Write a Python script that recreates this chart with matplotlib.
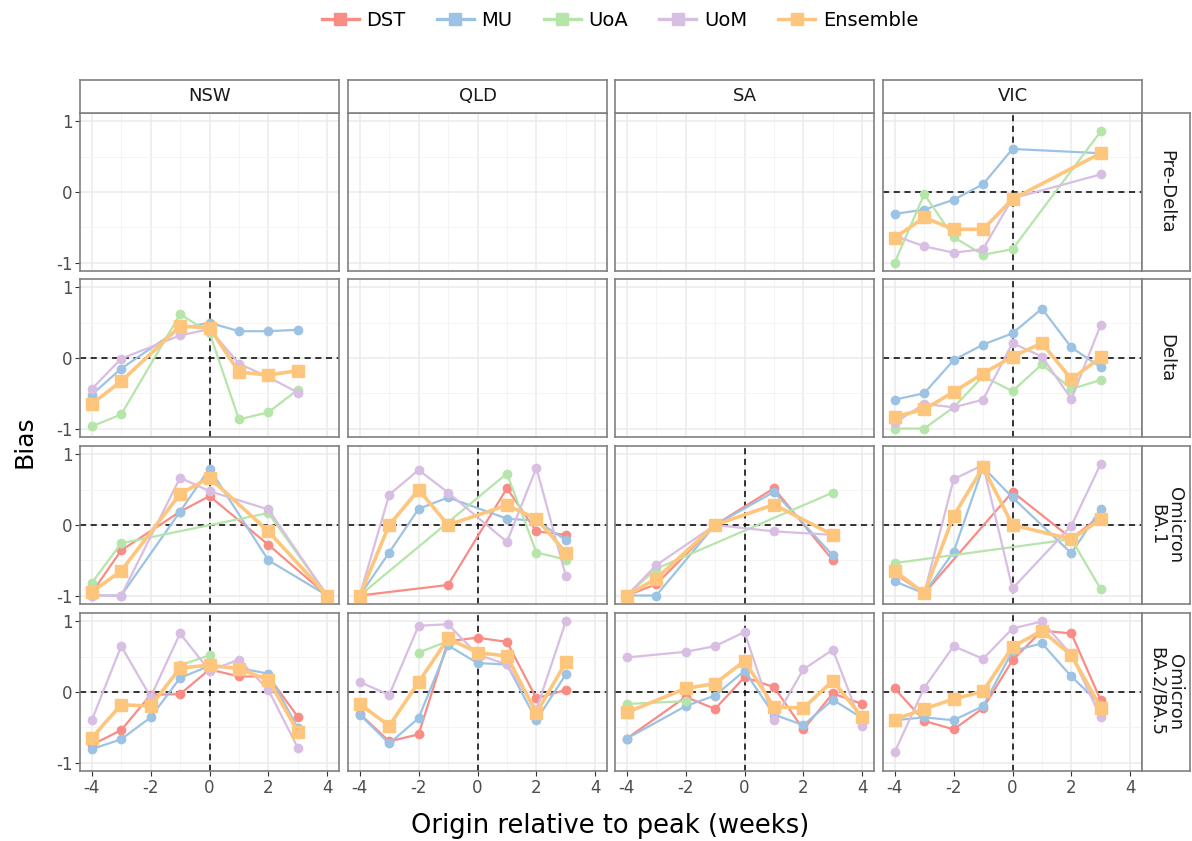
import matplotlib
matplotlib.use('Agg')
import matplotlib.pyplot as plt
from matplotlib.lines import Line2D
from matplotlib.ticker import MultipleLocator
import numpy as np

nan = np.nan

# weeks relative to the peak
weeks = [-4, -3, -2, -1, 0, 1, 2, 3, 4]

states = ['NSW', 'QLD', 'SA', 'VIC']
variants = ['Pre-Delta', 'Delta', 'Omicron\nBA.1', 'Omicron\nBA.2/BA.5']
models = ['DST', 'MU', 'UoA', 'UoM', 'Ensemble']
colores = {'DST': '#f98d85', 'MU': '#9dc3e4', 'UoA': '#b6e5aa',
           'UoM': '#d8bee2', 'Ensemble': '#fdc67c'}

# bias by panel (nan = no forecast for that week)
nsw_delta = {
    'MU':       [-0.52, -0.15, nan, 0.42, 0.50, 0.38, 0.38, 0.40, nan],
    'UoA':      [-0.97, -0.80, nan, 0.62, 0.36, -0.87, -0.77, -0.45, nan],
    'UoM':      [-0.44, -0.01, nan, 0.32, 0.41, -0.08, -0.27, -0.49, nan],
    'Ensemble': [-0.65, -0.33, nan, 0.45, 0.43, -0.20, -0.24, -0.18, nan],
}
nsw_ba1 = {
    'DST':      [-0.96, -0.36, nan, 0.19, 0.41, nan, -0.28, nan, -1.0],
    'MU':       [-1.0, -1.0, nan, 0.19, 0.80, nan, -0.50, nan, -1.0],
    'UoA':      [-0.82, -0.26, nan, nan, nan, nan, 0.17, nan, -1.0],
    'UoM':      [-1.0, -1.0, nan, 0.67, 0.48, nan, 0.22, nan, -1.0],
    'Ensemble': [-0.95, -0.65, nan, 0.44, 0.67, nan, -0.09, nan, -1.0],
}
nsw_ba2 = {
    'DST':      [-0.75, -0.54, -0.04, -0.03, 0.32, 0.22, 0.22, -0.35, nan],
    'MU':       [-0.81, -0.67, -0.36, 0.20, 0.37, 0.34, 0.26, -0.51, nan],
    'UoA':      [nan, nan, nan, 0.38, 0.52, nan, nan, nan, nan],
    'UoM':      [-0.40, 0.65, -0.07, 0.83, 0.30, 0.46, 0.03, -0.79, nan],
    'Ensemble': [-0.65, -0.18, -0.20, 0.34, 0.38, 0.33, 0.17, -0.56, nan],
}
qld_ba1 = {
    'DST':      [-1.0, nan, nan, -0.85, nan, 0.52, -0.09, -0.14, nan],
    'MU':       [-1.0, -0.39, 0.23, 0.39, nan, 0.09, 0.06, -0.21, nan],
    'UoA':      [-1.0, nan, nan, nan, nan, 0.73, -0.39, -0.49, nan],
    'UoM':      [-1.0, 0.43, 0.78, 0.46, nan, -0.24, 0.81, -0.72, nan],
    'Ensemble': [-1.0, 0.0, 0.50, 0.0, nan, 0.28, 0.09, -0.39, nan],
}
qld_ba2 = {
    'DST':      [-0.31, -0.70, -0.60, 0.72, 0.77, 0.71, -0.09, 0.03, nan],
    'MU':       [-0.32, -0.73, -0.37, 0.66, 0.41, 0.39, -0.40, 0.25, nan],
    'UoA':      [nan, nan, 0.56, 0.72, nan, nan, nan, nan, nan],
    'UoM':      [0.14, -0.04, 0.94, 0.96, 0.53, 0.39, -0.25, 1.0, nan],
    'Ensemble': [-0.17, -0.48, 0.14, 0.76, 0.56, 0.51, -0.30, 0.42, nan],
}
sa_ba1 = {
    'DST':      [-1.0, -0.84, nan, 0.0, nan, 0.52, nan, -0.50, nan],
    'MU':       [-1.0, -1.0, nan, 0.0, nan, 0.47, nan, -0.43, nan],
    'UoA':      [-1.0, -0.62, nan, nan, nan, nan, nan, 0.46, nan],
    'UoM':      [-1.0, -0.57, nan, 0.0, nan, -0.09, nan, -0.14, nan],
    'Ensemble': [-1.0, -0.76, nan, 0.0, nan, 0.29, nan, -0.14, nan],
}
sa_ba2 = {
    'DST':      [-0.66, nan, -0.07, -0.24, 0.21, 0.07, -0.53, -0.02, -0.17],
    'MU':       [-0.66, nan, -0.20, -0.05, 0.30, -0.32, -0.47, -0.11, -0.37],
    'UoA':      [-0.17, nan, -0.13, nan, nan, nan, nan, nan, nan],
    'UoM':      [0.49, nan, 0.57, 0.65, 0.85, -0.40, 0.32, 0.60, -0.48],
    'Ensemble': [-0.29, nan, 0.05, 0.12, 0.44, -0.21, -0.23, 0.16, -0.36],
}
vic_pre = {
    'MU':       [-0.31, -0.25, -0.11, 0.11, 0.61, nan, nan, 0.55, nan],
    'UoA':      [-1.0, -0.03, -0.64, -0.89, -0.81, nan, nan, 0.86, nan],
    'UoM':      [-0.62, -0.77, -0.86, -0.81, -0.09, nan, nan, 0.25, nan],
    'Ensemble': [-0.65, -0.36, -0.53, -0.53, -0.10, nan, nan, 0.55, nan],
}
vic_delta = {
    'MU':       [-0.59, -0.50, -0.03, 0.19, 0.35, 0.70, 0.15, -0.13, nan],
    'UoA':      [-1.0, -1.0, -0.70, -0.26, -0.47, -0.09, -0.44, -0.31, nan],
    'UoM':      [-0.92, -0.65, -0.70, -0.59, 0.21, 0.02, -0.58, 0.47, nan],
    'Ensemble': [-0.83, -0.73, -0.48, -0.22, 0.02, 0.21, -0.30, 0.01, nan],
}
vic_ba1 = {
    'DST':      [-0.69, -0.97, nan, nan, 0.47, nan, -0.19, 0.13, nan],
    'MU':       [-0.80, -0.97, -0.38, 0.82, 0.39, nan, -0.40, 0.23, nan],
    'UoA':      [-0.54, nan, nan, nan, nan, nan, -0.20, -0.91, nan],
    'UoM':      [-0.66, -0.97, 0.65, 0.85, -0.90, nan, -0.01, 0.87, nan],
    'Ensemble': [-0.65, -0.97, 0.13, 0.82, 0.0, nan, -0.20, 0.08, nan],
}
vic_ba2 = {
    'DST':      [0.05, -0.41, -0.53, -0.23, 0.45, 0.87, 0.83, -0.12, nan],
    'MU':       [-0.40, -0.36, -0.40, -0.20, 0.58, 0.69, 0.22, -0.18, nan],
    'UoM':      [-0.85, 0.06, 0.65, 0.47, 0.90, 1.0, 0.53, -0.36, nan],
    'Ensemble': [-0.39, -0.24, -0.10, 0.01, 0.64, 0.87, 0.52, -0.22, nan],
}

paneles = {
    ('NSW', 1): nsw_delta, ('NSW', 2): nsw_ba1, ('NSW', 3): nsw_ba2,
    ('QLD', 2): qld_ba1, ('QLD', 3): qld_ba2,
    ('SA', 2): sa_ba1, ('SA', 3): sa_ba2,
    ('VIC', 0): vic_pre, ('VIC', 1): vic_delta, ('VIC', 2): vic_ba1, ('VIC', 3): vic_ba2,
}

W, H = 1192, 841
fig = plt.figure(figsize=(W / 100, H / 100), dpi=100)

def px_axes(x, y, w, h):
    return fig.add_axes([x / W, 1 - (y + h) / H, w / W, h / H])

col_left = [80, 348, 615, 883]
row_top = [113, 279, 446, 613]
pw, ph = 259, 158
borde = '#808080'

for j, st in enumerate(states):
    for i in range(4):
        ax = px_axes(col_left[j], row_top[i], pw, ph)
        ax.set_xlim(-4.4, 4.4)
        ax.set_ylim(-1.12, 1.12)
        ax.xaxis.set_major_locator(MultipleLocator(2))
        ax.xaxis.set_minor_locator(MultipleLocator(1))
        ax.yaxis.set_major_locator(MultipleLocator(1))
        ax.yaxis.set_minor_locator(MultipleLocator(0.5))
        ax.grid(True, which='major', color='#ebebeb', lw=1.1)
        ax.grid(True, which='minor', color='#f3f3f3', lw=0.6)
        ax.set_axisbelow(True)
        for s in ax.spines.values():
            s.set_color(borde)
            s.set_linewidth(1.2)
        ax.tick_params(which='minor', length=0)
        ax.tick_params(which='major', length=3.5, color='#333333', labelsize=12,
                       labelcolor='#4d4d4d', pad=2)
        if j == 0:
            ax.set_yticks([-1, 0, 1])
            ax.set_yticklabels(['-1', '0', '1'])
        else:
            ax.tick_params(axis='y', length=0, labelleft=False)
        if i == 3:
            ax.set_xticks([-4, -2, 0, 2, 4])
            ax.set_xticklabels(['-4', '-2', '0', '2', '4'])
        else:
            ax.tick_params(axis='x', length=0, labelbottom=False)

        datos = paneles.get((st, i))
        if datos is not None:
            ax.axhline(0, color='black', ls=(0, (4, 3)), lw=1.1, zorder=2)
            ax.axvline(0, color='black', ls=(0, (4, 3)), lw=1.1, zorder=2)
            for m in models:
                if m not in datos:
                    continue
                v = np.array(datos[m], dtype=float)
                ok = ~np.isnan(v)
                x = np.array(weeks)[ok]
                if m == 'Ensemble':
                    ax.plot(x, v[ok], color=colores[m], lw=2.6, marker='s',
                            ms=9, zorder=4, clip_on=False)
                else:
                    ax.plot(x, v[ok], color=colores[m], lw=1.6, marker='o',
                            ms=6, zorder=3, clip_on=False)

        if i == 0:
            sax = px_axes(col_left[j], 80, pw, 33)
            sax.set_xticks([]); sax.set_yticks([])
            for s in sax.spines.values():
                s.set_color(borde); s.set_linewidth(1.2)
            sax.text(0.5, 0.5, st, ha='center', va='center', fontsize=13,
                     color='#1a1a1a', transform=sax.transAxes)
        if j == 3:
            rax = px_axes(col_left[j] + pw, row_top[i], 48, ph)
            rax.set_xticks([]); rax.set_yticks([])
            for s in rax.spines.values():
                s.set_color(borde); s.set_linewidth(1.2)
            rax.text(0.5, 0.5, variants[i], ha='center', va='center', fontsize=13,
                     color='#1a1a1a', rotation=-90, linespacing=1.0,
                     transform=rax.transAxes)

fig.text(24 / W, 1 - 442 / H, 'Bias', rotation=90, ha='center', va='center',
         fontsize=18, color='black')
fig.text(610 / W, 1 - 826 / H, 'Origin relative to peak (weeks)', ha='center',
         va='center', fontsize=18.5, color='black')

manijas = [Line2D([0], [0], color=colores[m], lw=2.4, marker='s', ms=8) for m in models]
fig.legend(manijas, models, loc='center', bbox_to_anchor=(620 / W, 1 - 20 / H), ncol=5,
           frameon=False, fontsize=14, handlelength=1.9, columnspacing=1.6,
           handletextpad=0.4)

fig.savefig('out.png', dpi=100)
